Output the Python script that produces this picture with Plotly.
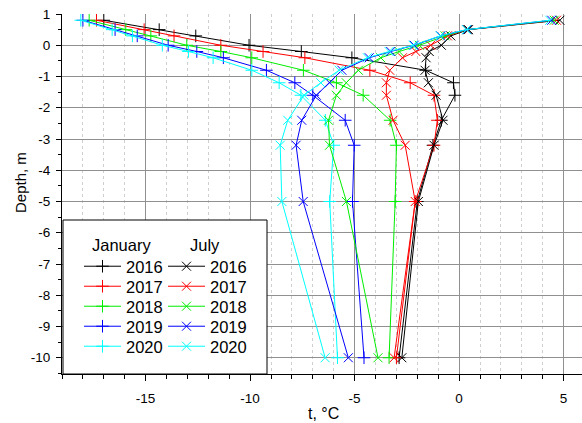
import plotly.graph_objects as go

depths = [0.8, 0.5, 0.3, 0, -0.2, -0.4, -0.8, -1.2, -1.6, -2.4, -3.2, -5, -10]
years = ["2016", "2017", "2018", "2019", "2020"]
colors = ["#000000", "#ff0000", "#00ee00", "#0000ff", "#00ffff"]

jan_2016 = [-17.0, -14.35, -12.6, -10.05, -7.55, -5.13, -1.6, -0.27, -0.2, -0.85, -1.25, -2.0, -2.87]
jan_2017 = [-17.35, -15.07, -13.64, -11.4, -9.38, -7.38, -4.27, -2.34, -1.2, -1.04, -1.2, -2.1, -3.0]
jan_2018 = [-17.7, -15.95, -14.75, -13.03, -11.4, -9.92, -7.45, -5.87, -4.59, -3.3, -3.0, -3.06, -3.35]
jan_2019 = [-18.0, -16.46, -15.4, -13.92, -12.55, -11.28, -9.22, -7.86, -7.0, -5.45, -5.02, -5.1, -4.55]
jan_2020 = [-18.1, -16.6, -15.63, -14.2, -12.95, -11.77, -9.92, -8.61, -7.57, -6.4, -6.0, -6.19, -5.82]

jul_2016 = [4.82, 0.45, -0.4, -0.85, -1.43, -1.58, -1.63, -1.47, -1.1, -0.77, -1.2, -1.95, -2.74]
jul_2017 = [4.66, 0.4, -0.56, -1.36, -2.07, -2.71, -3.32, -3.48, -3.48, -3.16, -2.58, -2.1, -3.11]
jul_2018 = [4.55, 0.38, -0.67, -1.9, -2.87, -3.75, -4.82, -5.4, -5.87, -6.25, -6.2, -5.39, -3.88]
jul_2019 = [4.43, 0.38, -0.88, -2.15, -3.27, -4.3, -5.61, -6.2, -6.83, -7.53, -7.8, -7.46, -5.3]
jul_2020 = [4.34, 0.35, -0.9, -2.2, -3.35, -4.39, -5.74, -6.62, -7.42, -8.2, -8.56, -8.48, -6.41]

january = [jan_2016, jan_2017, jan_2018, jan_2019, jan_2020]
july = [jul_2016, jul_2017, jul_2018, jul_2019, jul_2020]

x_ticks = [-15, -10, -5, 0, 5]
y_ticks = [1, 0, -1, -2, -3, -4, -5, -6, -7, -8, -9, -10]

FONT = "Liberation Sans, Arial, sans-serif"

L, R, T, B = 62, 0, 14, 49
W, H = 582, 423
pw = W - L - R
ph = H - T - B


def px_x(p):
    return (p - L) / pw


def px_y(p):
    return (H - B - p) / ph


def legend_key(i):
    return "legend" if i == 1 else "legend%d" % i


fig = go.Figure()
for i, (yr, col, vals) in enumerate(zip(years, colors, january)):
    fig.add_trace(go.Scatter(
        x=vals, y=depths, mode="lines+markers", name=yr, legend=legend_key(i + 1),
        line=dict(color=col, width=1),
        marker=dict(symbol="cross-thin", size=9, line=dict(color=col, width=1)),
    ))
for i, (yr, col, vals) in enumerate(zip(years, colors, july)):
    fig.add_trace(go.Scatter(
        x=vals, y=depths, mode="lines+markers", name=yr, legend=legend_key(i + 6),
        line=dict(color=col, width=1),
        marker=dict(symbol="x-thin", size=9, line=dict(color=col, width=1)),
    ))

legends = {}
row_y0, row_dy = 266.5, 20
for k in range(5):
    for col_i, lx in enumerate([79, 163]):
        idx = k + 1 + 5 * col_i
        legends[legend_key(idx)] = dict(
            x=px_x(lx), y=px_y(row_y0 + row_dy * k), xanchor="left", yanchor="middle",
            bgcolor="rgba(0,0,0,0)", borderwidth=0, itemwidth=37,
            font=dict(size=16.5), orientation="v",
        )

fig.update_layout(
    width=W, height=H,
    margin=dict(l=L, r=R, t=T, b=B, pad=0),
    paper_bgcolor="white", plot_bgcolor="white",
    font=dict(family=FONT, size=13, color="black"),
    showlegend=True,
    xaxis=dict(
        range=[-19, 5.88], showline=True, linecolor="black", linewidth=1,
        tickmode="array", tickvals=x_ticks, ticktext=[str(v) for v in x_ticks],
        ticks="outside", ticklen=6, tickwidth=1, tickcolor="black",
        ticklabelstandoff=6,
        showgrid=True, gridcolor="#909090", gridwidth=1,
        minor=dict(dtick=1, tick0=0, ticks="outside", ticklen=4, tickcolor="black",
                   showgrid=True, gridcolor="#cfcfcf", griddash="dot", gridwidth=1),
        zeroline=False, mirror=False, tickfont=dict(size=13.5),
    ),
    yaxis=dict(
        range=[-10.52, 1], showline=True, linecolor="black", linewidth=1,
        tickmode="array", tickvals=y_ticks, ticktext=[str(v) for v in y_ticks],
        ticks="outside", ticklen=5, tickwidth=1, tickcolor="black",
        ticklabelstandoff=3,
        showgrid=True, gridcolor="#909090", gridwidth=1,
        minor=dict(dtick=0.5, tick0=0, ticks="outside", ticklen=3, tickcolor="black",
                   showgrid=False),
        zeroline=False, mirror=False, tickfont=dict(size=13.5),
    ),
    shapes=[dict(
        type="rect", xref="paper", yref="paper",
        x0=px_x(63), x1=px_x(267), y0=0, y1=px_y(220),
        fillcolor="white", line=dict(color="black", width=1), layer="above",
    )],
    annotations=[
        dict(text="t, °C", xref="paper", yref="paper", x=px_x(323), y=px_y(413),
             xanchor="center", yanchor="middle", showarrow=False, font=dict(size=16)),
        dict(text="Depth, m", xref="paper", yref="paper", x=px_x(20), y=px_y(183),
             xanchor="center", yanchor="middle", textangle=-90, showarrow=False,
             font=dict(size=15)),
        dict(text="January", xref="paper", yref="paper", x=px_x(121.5), y=px_y(245),
             xanchor="center", yanchor="middle", showarrow=False, font=dict(size=16.5)),
        dict(text="July", xref="paper", yref="paper", x=px_x(204.5), y=px_y(245),
             xanchor="center", yanchor="middle", showarrow=False, font=dict(size=16.5)),
    ],
    **legends,
)

fig.write_html("out.html")
